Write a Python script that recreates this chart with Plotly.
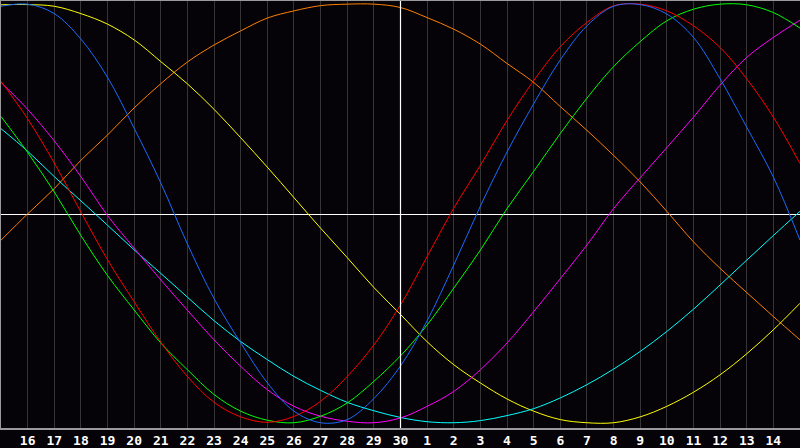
import plotly.graph_objects as go

# day index 0..30 (index 0 = 15th, index 15 = 30th, index 16 = 1st ...)
day_labels = ["15", "16", "17", "18", "19", "20", "21", "22", "23", "24", "25", "26", "27", "28", "29", "30",
              "1", "2", "3", "4", "5", "6", "7", "8", "9", "10", "11", "12", "13", "14", "15"]
day_index = list(range(len(day_labels)))
today_index = 15

physical = [0.99, 1.0, 0.955, 0.834, 0.652, 0.41, 0.15, -0.14, -0.40, -0.61, -0.80, -0.935, -0.99, -0.975,
            -0.875, -0.72, -0.505, -0.24, 0.04, 0.297, 0.526, 0.735, 0.897, 0.99, 0.998, 0.953, 0.842, 0.645,
            0.415, 0.178, -0.122]
emotional = [0.633, 0.455, 0.245, 0.012, -0.215, -0.415, -0.607, -0.77, -0.893, -0.962, -0.988, -0.96, -0.888,
             -0.77, -0.62, -0.43, -0.2, 0.03, 0.234, 0.447, 0.636, 0.798, 0.913, 0.992, 1.0, 0.968, 0.897,
             0.794, 0.645, 0.463, 0.242]
intellectual = [0.466, 0.295, 0.107, -0.1, -0.29, -0.454, -0.611, -0.738, -0.856, -0.935, -0.978, -0.99, -0.959,
                -0.896, -0.793, -0.672, -0.525, -0.35, -0.169, 0.028, 0.205, 0.385, 0.553, 0.703, 0.822, 0.921,
                0.976, 1.0, 0.997, 0.96, 0.886]
intuitive = [0.628, 0.5, 0.35, 0.18, -0.005, -0.16, -0.311, -0.455, -0.596, -0.722, -0.833, -0.912, -0.959,
             -0.983, -0.99, -0.967, -0.912, -0.841, -0.738, -0.611, -0.462, -0.305, -0.145, 0.028, 0.175, 0.318,
             0.463, 0.615, 0.747, 0.842, 0.924]
spiritual = [0.408, 0.301, 0.18, 0.065, -0.051, -0.168, -0.28, -0.393, -0.505, -0.604, -0.69, -0.77, -0.836,
             -0.893, -0.933, -0.965, -0.985, -0.99, -0.98, -0.956, -0.923, -0.872, -0.809, -0.735, -0.651, -0.556,
             -0.45, -0.335, -0.217, -0.1, 0.015]
aesthetic = [0.997, 0.998, 0.99, 0.955, 0.905, 0.83, 0.727, 0.621, 0.5, 0.365, 0.225, 0.08, -0.065, -0.205,
             -0.347, -0.475, -0.605, -0.714, -0.801, -0.877, -0.935, -0.975, -0.99, -0.99, -0.962, -0.912, -0.845,
             -0.762, -0.662, -0.548, -0.422]
awareness = [-0.122, 0.003, 0.123, 0.258, 0.378, 0.507, 0.622, 0.725, 0.806, 0.873, 0.934, 0.968, 0.993, 1.0,
             1.0, 0.984, 0.936, 0.881, 0.81, 0.718, 0.628, 0.513, 0.4, 0.281, 0.155, 0.015, -0.13, -0.256,
             -0.371, -0.485, -0.596]

series = [
    ("Awareness", awareness, "#ff8000"),
    ("Aesthetic", aesthetic, "#ffff00"),
    ("Spiritual", spiritual, "#00ffff"),
    ("Intuitive", intuitive, "#ff00ff"),
    ("Intellectual", intellectual, "#00ff00"),
    ("Emotional", emotional, "#ff0000"),
    ("Physical", physical, "#1a6bff"),
]

fig = go.Figure()
for name, vals, color in series:
    fig.add_trace(go.Scatter(x=day_index, y=vals, mode="lines", name=name,
                             line=dict(color=color, width=1, shape="spline", smoothing=1.0),
                             hoverinfo="skip"))

fig.add_shape(type="line", xref="x", yref="paper", x0=today_index, x1=today_index, y0=0, y1=1,
              line=dict(color="#ffffff", width=1.2), layer="above")

fig.update_layout(
    width=800, height=448,
    margin=dict(l=1, r=0, t=1, b=20),
    paper_bgcolor="#050307",
    plot_bgcolor="#050307",
    showlegend=False,
    xaxis=dict(range=[0, 30], tickvals=day_index[1:30], ticktext=day_labels[1:30],
               showgrid=True, gridcolor="#353535", gridwidth=1, zeroline=False,
               showline=True, linecolor="#9a9a9a", linewidth=1.5, mirror=True, ticks="",
               tickfont=dict(family="DejaVu Sans Mono", size=13, color="#ffffff", weight="bold"),
               fixedrange=True),
    yaxis=dict(range=[-1.015, 1.015], showticklabels=False, showgrid=False,
               zeroline=True, zerolinecolor="#ffffff", zerolinewidth=1.2,
               showline=True, linecolor="#9a9a9a", linewidth=1.5, ticks="", fixedrange=True),
)

fig.write_html("out.html", config={"displayModeBar": False},
               post_script="document.body.style.margin='0';document.body.style.background='#050307';")
